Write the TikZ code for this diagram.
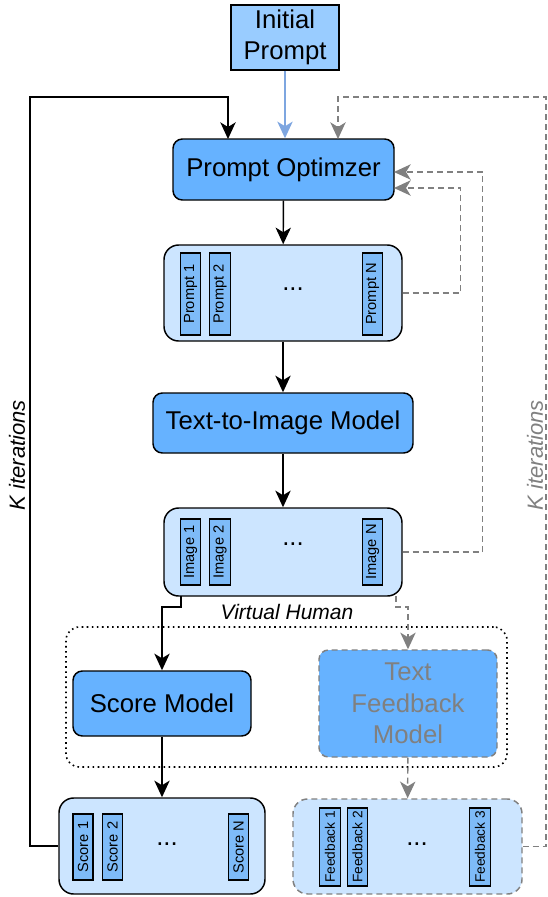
\documentclass[tikz,border=0pt]{standalone}
\usepackage{fontspec}
\setmainfont{Liberation Sans}
\usepackage{xcolor}
\usepackage{tikz}
\usetikzlibrary{arrows.meta}

\definecolor{optblue}{HTML}{66B2FF}
\definecolor{initblue}{HTML}{99CCFF}
\definecolor{listblue}{HTML}{CCE5FF}
\definecolor{itemblue}{HTML}{7EBBF8}
\definecolor{fbgray}{HTML}{808080}
\definecolor{initline}{HTML}{7EA6E0}

\begin{document}
\begin{tikzpicture}[x=0.75pt, y=-0.75pt,
    boxw/.style={minimum width=#1*0.75pt},
    boxh/.style={minimum height=#1*0.75pt},
    bigtext/.style={font=\fontsize{19.3}{23.5}\selectfont},
    model/.style={draw, line width=1.1pt, rounded corners=7pt, fill=optblue, bigtext, align=center, inner sep=0pt},
    listbox/.style={draw, line width=1.1pt, rounded corners=11pt, fill=listblue, inner sep=0pt},
    item/.style={draw, line width=0.9pt, fill=itemblue, rotate=90, inner sep=0pt, minimum height=15.5pt, font=\fontsize{11}{12}\selectfont},
    flow/.style={line width=1.1pt, -{Stealth[length=12.5pt, width=11.5pt, inset=3.5pt]}},
    fbline/.style={line width=1.1pt, draw=fbgray, dash pattern=on 4.5pt off 3pt},
    fbflow/.style={fbline, -{Stealth[length=12.5pt, width=11.5pt, inset=3.5pt, fill=fbgray]}},
    dots/.style={bigtext}
]
    \useasboundingbox (0,0) rectangle (548,897);

    % Virtual human group
    \node[draw, line width=1.2pt, dash pattern=on 1.2pt off 2.6pt, rounded corners=10pt, boxw=441, boxh=140] (vh) at (286.5,697) {};
    \node[font=\fontsize{15.75}{18}\selectfont\itshape] (vhlabel) at (287,612) {Virtual Human};

    % Main blocks
    \node[draw, line width=1.1pt, fill=initblue, bigtext, align=center, inner sep=0pt, boxw=108, boxh=65] (init) at (285,37.5) {Initial\\Prompt};
    \node[model, boxw=221, boxh=61] (opt) at (283.5,169.5) {Prompt Optimzer};
    \node[listbox, boxw=238, boxh=96] (prompts) at (283,293) {};
    \node[model, boxw=260, boxh=60] (t2i) at (283,423) {Text-to-Image Model};
    \node[listbox, boxw=238, boxh=88] (images) at (283,552) {};
    \node[model, boxw=178, boxh=65] (score) at (162,703.5) {Score Model};
    \node[model, draw=fbgray, dash pattern=on 4.5pt off 3pt, text=fbgray, boxw=178, boxh=107] (textfb) at (408,703.5) {Text\\Feedback\\Model};
    \node[listbox, boxw=206, boxh=96] (scores) at (162,846) {};
    \node[listbox, draw=fbgray, dash pattern=on 4.5pt off 3pt, boxw=229, boxh=95] (feedbacks) at (407.5,846.5) {};

    % Prompts
    \node[item, boxw=82] (p1) at (190.5,294) {Prompt 1};
    \node[item, boxw=82] (p2) at (220,294) {Prompt 2};
    \node[item, boxw=82] (pn) at (372.5,294) {Prompt N};
    \node[dots] (pdots) at (293,289) {...};

    % Images
    \node[item, boxw=66] (i1) at (190.5,552) {Image 1};
    \node[item, boxw=66] (i2) at (220,552) {Image 2};
    \node[item, boxw=66] (in) at (372.5,552) {Image N};
    \node[dots] (idots) at (293,544) {...};

    % Scores
    \node[item, boxw=66, minimum height=15pt] (s1) at (83,847) {Score 1};
    \node[item, boxw=66, minimum height=15pt] (s2) at (112.5,847) {Score 2};
    \node[item, boxw=66, minimum height=15pt] (sn) at (238.5,847) {Score N};
    \node[dots] (sdots) at (167,844) {...};

    % Feedbacks
    \node[item, boxw=78, font=\fontsize{10.3}{12}\selectfont] (f1) at (330,847) {Feedback 1};
    \node[item, boxw=78, font=\fontsize{10.3}{12}\selectfont] (f2) at (357.5,847) {Feedback 2};
    \node[item, boxw=78, font=\fontsize{10.3}{12}\selectfont] (f3) at (480,847) {Feedback 3};
    \node[dots] (fdots) at (417,844) {...};

    % Loop labels
    \node[rotate=90, font=\fontsize{16.5}{18}\selectfont\itshape] (kleft) at (17,455) {K iterations};
    \node[rotate=90, font=\fontsize{16.5}{18}\selectfont\itshape, text=fbgray] (kright) at (535,455) {K iterations};

    % Entry points
    \coordinate (loopl) at (30,97);
    \coordinate (optin1) at (228,139);
    \coordinate (loopr) at (546,97);
    \coordinate (optin2) at (338,139);
    \coordinate (optr1) at (394,172);
    \coordinate (optr2) at (394,188);
    \coordinate (imgout1) at (181,596);
    \coordinate (imgout2) at (396,596);

    % Forward path
    \draw[flow, draw=initline] (init.south) -- (init.south |- opt.north);
    \draw[flow] (opt) -- (prompts);
    \draw[flow] (prompts) -- (t2i);
    \draw[flow] (t2i) -- (images);
    \draw[flow] (imgout1) -- ++(0,11) -| (score.north);
    \draw[flow] (score) -- (scores);
    \draw[fbflow] (imgout2) -- ++(0,11) -| (textfb.north);
    \draw[fbflow] (textfb) -- (feedbacks);

    % Feedback loops
    \draw[flow] (scores.west) -| (loopl) -| (optin1);
    \draw[fbflow] (feedbacks.east) -| (loopr) -| (optin2);
    \draw[fbflow] (prompts.east) -- ++(58,0) |- (optr2);
    \draw[fbflow] (images.east) -- ++(80,0) |- (optr1);
\end{tikzpicture}
\end{document}
